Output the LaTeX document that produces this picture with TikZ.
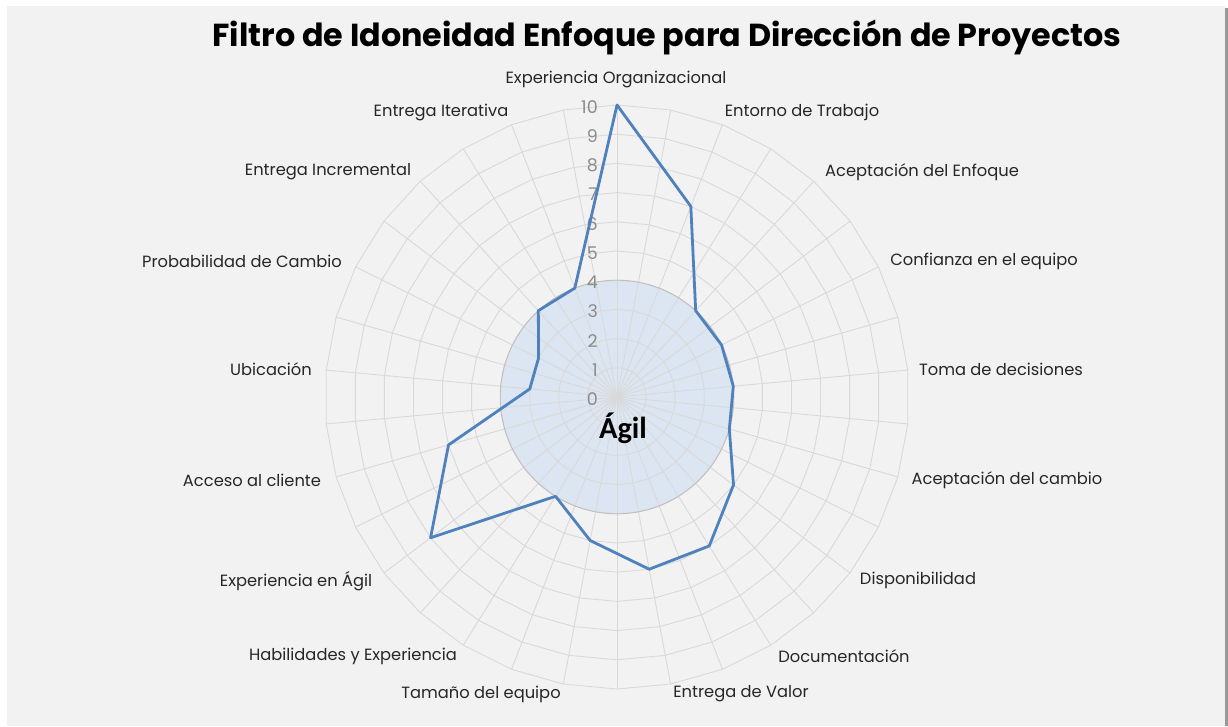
\documentclass[tikz,border=0pt]{standalone}
\usepackage{fontspec}
\setmainfont{Poppins}
\newfontfamily\calib{Carlito}
\definecolor{bgc}{HTML}{F2F2F2}
\definecolor{gridc}{HTML}{D9D9D9}
\definecolor{fillc}{HTML}{DCE6F2}
\definecolor{ringc}{HTML}{BFBFBF}
\definecolor{linec}{HTML}{4F81BD}
\definecolor{axc}{HTML}{8C8C8C}
\definecolor{txtc}{HTML}{262626}
\tikzset{
  gridline/.style={draw=gridc, line width=0.9pt},
  dataline/.style={draw=linec, line width=2.8pt, line join=round},
  catlabel/.style={font=\fontsize{16.3}{18}\selectfont, text=txtc, inner sep=0pt},
  axlabel/.style={font=\fontsize{17.5}{18}\selectfont, text=axc, inner sep=0pt, anchor=east},
}
\begin{document}
\begin{tikzpicture}[x=1pt,y=-1pt]
\useasboundingbox (0,0) rectangle (1228,726);
\fill[white] (0,0) rectangle (1228,726);
\fill[bgc] (7,6) rectangle (1225,726);
\fill[black!40] (1225,8) rectangle (1228,726);
% title
\node[font=\bfseries\fontsize{31.8}{34}\selectfont, text=black, inner sep=0pt] (title) at (667,37) {Filtro de Idoneidad Enfoque para Dirección de Proyectos};
% shaded area
\fill[fillc] (617,397) circle (116.8);
% grid
\foreach \k in {0,...,33}{
  \draw[gridline] (617,397) -- ({617+292*sin(\k*360/34)},{397-292*cos(\k*360/34)});
}
\foreach \r in {1,...,10}{
  \draw[gridline] ({617},{397-\r*29.2}) \foreach \k in {1,...,33}{ -- ({617+\r*29.2*sin(\k*360/34)},{397-\r*29.2*cos(\k*360/34)})} -- cycle;
}
\draw[draw=ringc, line width=0.9pt] (617,397) circle (116.8);
% axis numbers
\foreach \v in {0,...,10}{
  \node[axlabel] (t\v) at (598,{399-\v*29.2}) {\v};
}
% data
\foreach \v [count=\i from 0] in {10,7,4,4,4,4,5,6,6,5,4,8,6,3,3,4,4}{
  \coordinate (d\i) at ({617+\v*29.2*sin(\i*360/17)},{397-\v*29.2*cos(\i*360/17)});
}
\draw[dataline] (d0) -- (d1) -- (d2) -- (d3) -- (d4) -- (d5) -- (d6) -- (d7) -- (d8) -- (d9) -- (d10) -- (d11) -- (d12) -- (d13) -- (d14) -- (d15) -- (d16) -- cycle;
% center label
\node[font=\calib\bfseries\fontsize{30.5}{32}\selectfont, text=black, inner sep=0pt] (agil) at (623,428) {Ágil};
% category labels
\node[catlabel] (c0) at (616,79) {Experiencia Organizacional};
\node[catlabel] (c1) at (802,112) {Entorno de Trabajo};
\node[catlabel] (c2) at (922,172) {Aceptación del Enfoque};
\node[catlabel] (c3) at (984,261) {Confianza en el equipo};
\node[catlabel] (c4) at (1001,369) {Toma de decisiones};
\node[catlabel] (c5) at (1007,480) {Aceptación del cambio};
\node[catlabel] (c6) at (918,580) {Disponibilidad};
\node[catlabel] (c7) at (844,656) {Documentación};
\node[catlabel] (c8) at (741,694) {Entrega de Valor};
\node[catlabel] (c9) at (481,694) {Tamaño del equipo};
\node[catlabel] (c10) at (353,656) {Habilidades y Experiencia};
\node[catlabel] (c11) at (296,581) {Experiencia en Ágil};
\node[catlabel] (c12) at (252,480) {Acceso al cliente};
\node[catlabel] (c13) at (271,369) {Ubicación};
\node[catlabel] (c14) at (242,261) {Probabilidad de Cambio};
\node[catlabel] (c15) at (328,172) {Entrega Incremental};
\node[catlabel] (c16) at (441,112) {Entrega Iterativa};
\end{tikzpicture}
\end{document}
